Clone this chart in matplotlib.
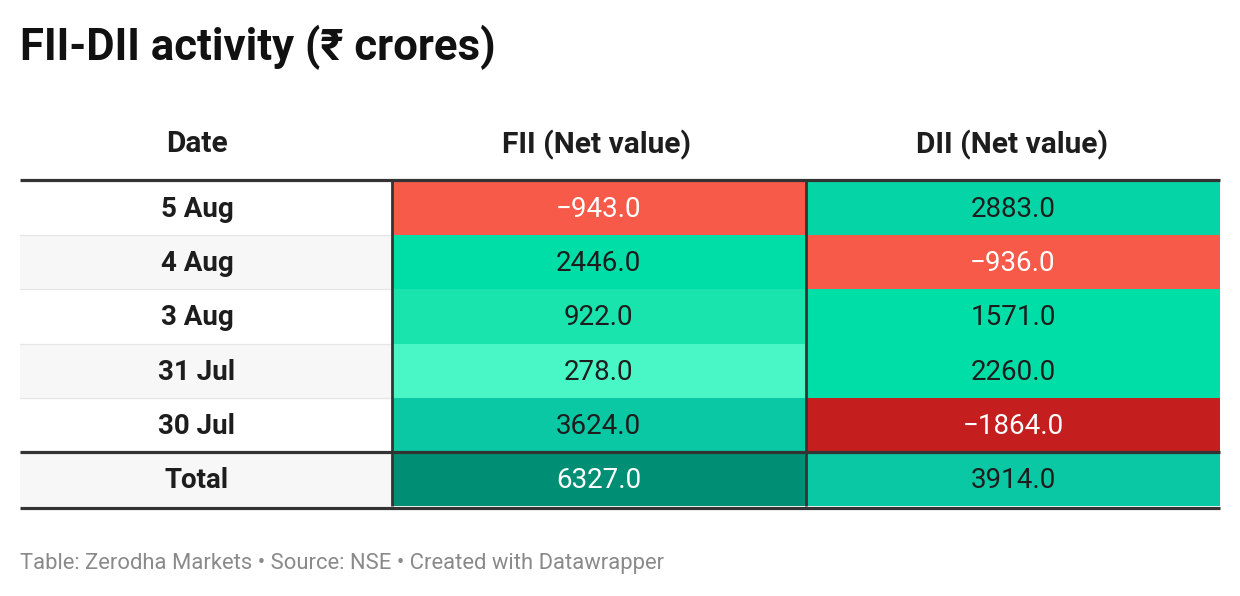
import numpy as np
import matplotlib
matplotlib.use("Agg")
import matplotlib.pyplot as plt
from matplotlib.colors import to_rgb

plt.rcParams['font.family'] = ['Roboto', 'DejaVu Sans']

# table data (values in Rs crores)
dates = ["5 Aug", "4 Aug", "3 Aug", "31 Jul", "30 Jul", "Total"]
fii = [-943.0, 2446.0, 922.0, 278.0, 3624.0, 6327.0]
dii = [2883.0, -936.0, 1571.0, 2260.0, -1864.0, 3914.0]
headers = ["Date", "FII (Net value)", "DII (Net value)"]

# cell colours
fii_colors = ["#f75a48", "#00dea8", "#19e4ae", "#48f6c6", "#0ac8a3", "#008f74"]
dii_colors = ["#05d5a6", "#f75a48", "#00dea8", "#00dea8", "#c41e1e", "#0ac8a3"]
date_bg = ["#ffffff", "#f7f7f7", "#ffffff", "#f7f7f7", "#ffffff", "#f7f7f7"]

W, H = 1240, 596
fig = plt.figure(figsize=(W / 100, H / 100), dpi=100)
ax = fig.add_axes([0, 0, 1, 1])
ax.set_xlim(0, W)
ax.set_ylim(H, 0)
ax.axis("off")

# layout in pixels
col_edges = [20, 391.5, 806, 1220]
top, bottom = 181, 506
n = len(dates)
row_h = (bottom - top) / n
rows = np.arange(n)
yc = top + row_h * (rows + 0.5)
text_dark = "#1d1d1d"


def fmt(v):
    return f"{v:.1f}".replace("-", "\u2212")


def text_color(c):
    # relative luminance, white text on dark / saturated cells
    lin = [x / 12.92 if x <= 0.04045 else ((x + 0.055) / 1.055) ** 2.4 for x in to_rgb(c)]
    lum = 0.2126 * lin[0] + 0.7152 * lin[1] + 0.0722 * lin[2]
    return "white" if lum < 0.33 else text_dark


# date column background and row separators
ax.barh(yc, col_edges[1] - col_edges[0], left=col_edges[0], height=row_h,
        color=date_bg, linewidth=0)
for y in top + row_h * rows[1:]:
    ax.plot([col_edges[0], col_edges[1]], [y, y], color="#e6e6e6", lw=0.9)

# heatmap cells
for j, (vals, cols) in enumerate([(fii, fii_colors), (dii, dii_colors)]):
    left = col_edges[j + 1]
    width = col_edges[j + 2] - left
    ax.barh(yc, width, left=left, height=row_h, color=cols, linewidth=0)
    for y, v, c in zip(yc, vals, cols):
        ax.text(left + width / 2, y + 1.5, fmt(v), ha="center", va="center",
                fontsize=20, color=text_color(c))

# date labels
date_x = 197
for y, d in zip(yc, dates):
    ax.text(date_x, y + 1.5, d, ha="center", va="center", fontsize=20,
            fontweight="bold", color=text_dark)

# header row
head_x = [date_x, 597, 1012]
for x, h in zip(head_x, headers):
    ax.text(x, 144.5, h, ha="center", va="center", fontsize=21.5,
            fontweight="bold", color=text_dark)

# thick rule lines
rule = "#333333"
ax.plot([20, 1220], [179.5, 179.5], color=rule, lw=2.3, solid_capstyle="butt")
ax.plot([20, 1220], [top + row_h * (n - 1), top + row_h * (n - 1)],
        color=rule, lw=2.3, solid_capstyle="butt")
ax.plot([20, 1220], [507.5, 507.5], color=rule, lw=2.3, solid_capstyle="butt")
for x in col_edges[1:3]:
    ax.plot([x, x], [181, 506], color=rule, lw=2.0, solid_capstyle="butt")

# title and footer
ax.text(20, 47, "FII-DII activity (\u20b9 crores)", ha="left", va="center",
        fontsize=31.5, fontweight="bold", color="#111111")
ax.text(20, 563, "Table: Zerodha Markets \u2022 Source: NSE \u2022 Created with Datawrapper",
        ha="left", va="center", fontsize=15.8, color="#8a8a8a")

fig.savefig("out.png", dpi=100, facecolor="white")
